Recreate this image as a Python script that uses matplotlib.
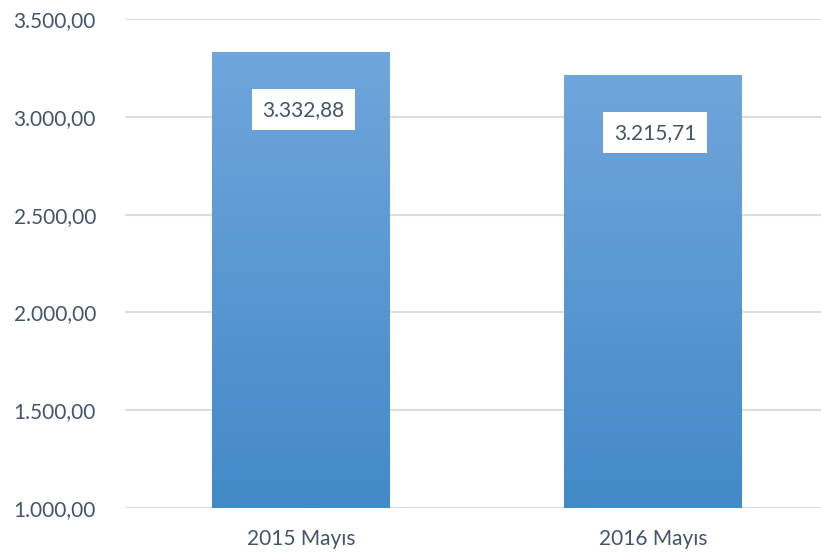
import matplotlib
matplotlib.use("Agg")
import matplotlib.pyplot as plt
import numpy as np
from matplotlib.colors import LinearSegmentedColormap
from matplotlib.patches import Rectangle

categories = ["2015 Mayıs", "2016 Mayıs"]
values = [3332.88, 3215.71]
value_labels = ["3.332,88", "3.215,71"]
yticks = [1000, 1500, 2000, 2500, 3000, 3500]
ytick_labels = ["1.000,00", "1.500,00", "2.000,00", "2.500,00", "3.000,00", "3.500,00"]

plt.rcParams['font.family'] = ['Lato', 'DejaVu Sans']
txt_color = "#44546A"
fs = 15

fig = plt.figure(figsize=(8.21, 5.54), dpi=100)
ax = fig.add_axes([125/821, 1-508/554, 1-125/821, (508-19)/554])
ax.set_ylim(1000, 3500)
ax.set_xlim(-0.5, 1.477)

cmap = LinearSegmentedColormap.from_list("g", ["#4389C8", "#6FA6DB"])
grad = np.linspace(0, 1, 256).reshape(-1, 1)
width = 0.505
x = np.arange(len(categories))
for xi, v, lab in zip(x, values, value_labels):
    rect = Rectangle((xi - width/2, 1000), width, v - 1000, facecolor="none", edgecolor="none", zorder=2)
    ax.add_patch(rect)
    im = ax.imshow(grad, extent=(xi - width/2, xi + width/2, 1000, v), origin="lower",
                   cmap=cmap, aspect="auto", zorder=2)
    im.set_clip_path(rect)
    ax.annotate(lab, xy=(xi, v), xytext=(2*0.72, -58*0.72), textcoords="offset points",
                ha="center", va="center", fontsize=fs, color=txt_color, zorder=4,
                bbox=dict(boxstyle="square,pad=0.5", facecolor="white", edgecolor="none"))
ax.set_aspect("auto")
ax.set_xlim(-0.5, 1.477)
ax.set_ylim(1000, 3500)

ax.set_yticks(yticks)
ax.set_yticklabels(ytick_labels)
ax.set_xticks(x)
ax.set_xticklabels(categories)
ax.tick_params(axis="both", length=0, labelsize=fs, colors=txt_color)
ax.tick_params(axis="y", pad=29*0.72)
ax.tick_params(axis="x", pad=21*0.72)
ax.grid(axis="y", color="#DADDE2", linewidth=1.5, zorder=1)
ax.set_axisbelow(True)
for s in ax.spines.values():
    s.set_visible(False)

fig.savefig("out.png", dpi=100)
